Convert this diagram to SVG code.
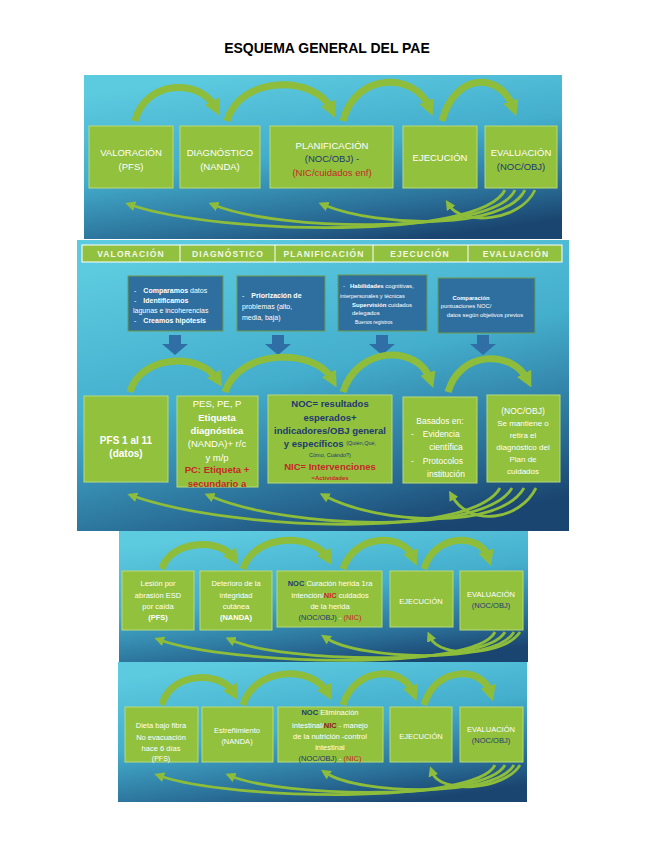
<svg xmlns="http://www.w3.org/2000/svg" width="655" height="848" viewBox="0 0 655 848">
<style>
.t{font-family:"Liberation Sans",Arial,sans-serif;text-anchor:middle;dominant-baseline:central;fill:#fff}
.s{text-anchor:start}
.b{font-weight:bold}
.blue{fill:#1f3a6e}
.red{fill:#c62828}
.dred{fill:#8b1a1a}
.gbox{fill:#92c13e;stroke:#b7d97a;stroke-width:1}
.bbox{fill:#2f6f9f;stroke:#6f9a4a;stroke-width:1}
.arc{fill:none;stroke:#8dbd3a;stroke-width:7;marker-end:url(#ah)}
.ret{fill:none;stroke:#8dbd3a;stroke-width:2.8;marker-end:url(#ahs)}
.down{fill:#2f6fa6}
.hdr{font-family:"Liberation Sans",Arial,sans-serif;font-weight:bold;font-size:8.5px;letter-spacing:1.1px;fill:#f3f8e6;text-anchor:middle;dominant-baseline:central}
</style>
<defs>
<linearGradient id="bg" x1="0.3" y1="0" x2="0.7" y2="1">
<stop offset="0" stop-color="#5ccadf"/>
<stop offset="0.45" stop-color="#44aecd"/>
<stop offset="0.8" stop-color="#2a6f98"/>
<stop offset="1" stop-color="#1a4570"/>
</linearGradient>
<marker id="ah" viewBox="0 0 10 10" refX="4" refY="5" markerWidth="16" markerHeight="16" markerUnits="userSpaceOnUse" orient="auto"><path d="M0,0 L10,5 L0,10 z" fill="#8dbd3a"/></marker>
<marker id="ahs" viewBox="0 0 10 10" refX="4" refY="5" markerWidth="10" markerHeight="10" markerUnits="userSpaceOnUse" orient="auto"><path d="M0,0 L10,5 L0,10 z" fill="#8dbd3a"/></marker>
<path id="dn" d="M-6,0 H6 V9 H13 L0,20 L-13,9 H-6 Z"/>
</defs>
<rect width="655" height="848" fill="#fff"/>
<text x="327" y="48" class="t b" style="fill:#000;font-size:14px">ESQUEMA GENERAL DEL PAE</text>

<g id="panels">
<rect x="84" y="75" width="478" height="164" fill="url(#bg)"/>
<rect x="77" y="240" width="492" height="291" fill="url(#bg)"/>
<rect x="119" y="531" width="409" height="131" fill="url(#bg)"/>
<rect x="118" y="662" width="409" height="140" fill="url(#bg)"/>
</g>

<!-- Panel 1 -->
<g id="p1-valoracion"><rect class="gbox" x="89" y="126" width="84" height="62"/>
<text class="t" x="131" y="152" font-size="9.5">VALORACIÓN</text><text class="t" x="131" y="166" font-size="9.5">(PFS)</text></g>
<g id="p1-diagnostico"><rect class="gbox" x="180" y="126" width="80" height="62"/>
<text class="t" x="220" y="152" font-size="9.5">DIAGNÓSTICO</text><text class="t" x="220" y="166" font-size="9.5">(NANDA)</text></g>
<g id="p1-planificacion"><rect class="gbox" x="270" y="126" width="123" height="62"/>
<text class="t" x="332" y="145" font-size="9.5">PLANIFICACIÓN</text><text class="t blue" x="332" y="158" font-size="9.5">(NOC/OBJ) -</text><text class="t red" x="332" y="172" font-size="9.5">(NIC/cuidados enf)</text></g>
<g id="p1-ejecucion"><rect class="gbox" x="403" y="126" width="74" height="62"/>
<text class="t" x="440" y="157" font-size="9.5">EJECUCIÓN</text></g>
<g id="p1-evaluacion"><rect class="gbox" x="485" y="126" width="72" height="62"/>
<text class="t" x="521" y="152" font-size="9.5">EVALUACIÓN</text><text class="t blue" x="521" y="166" font-size="9.5">(NOC/OBJ)</text></g>

<!-- Panel 2 header -->
<g id="p2-header">
<rect x="82" y="245" width="480" height="17" fill="#92c140" stroke="#fff" stroke-width="1"/>
<path d="M180 245V262M275 245V262M373 245V262M468 245V262" stroke="#fff" stroke-width="1"/>
<text class="hdr" x="131" y="254">VALORACIÓN</text>
<text class="hdr" x="228" y="254">DIAGNÓSTICO</text>
<text class="hdr" x="324" y="254">PLANIFICACIÓN</text>
<text class="hdr" x="420" y="254">EJECUCIÓN</text>
<text class="hdr" x="516" y="254">EVALUACIÓN</text>
</g>
<g id="p2-blue1"><rect class="bbox" x="128" y="276" width="95" height="55"/>
<text class="t s" x="134" y="290" font-size="7">-<tspan class="b" dx="7">Comparamos</tspan> datos</text>
<text class="t s" x="134" y="300" font-size="7">-<tspan class="b" dx="7">Identificamos</tspan></text>
<text class="t s" x="133" y="310" font-size="7">lagunas e incoherencias</text>
<text class="t s" x="134" y="320" font-size="7">-<tspan class="b" dx="7">Creamos hipótesis</tspan></text></g>
<g id="p2-blue2"><rect class="bbox" x="237" y="276" width="88" height="55"/>
<text class="t s" x="242" y="295" font-size="7">-<tspan class="b" dx="7">Priorización de</tspan></text>
<text class="t s" x="242" y="306" font-size="7">problemas (alto,</text>
<text class="t s" x="242" y="317" font-size="7">media, baja)</text></g>
<g id="p2-blue3"><rect class="bbox" x="338" y="275" width="89" height="56"/>
<text class="t s" x="343" y="286" font-size="6">-<tspan class="b" dx="5">Habilidades</tspan> cognitivas,</text>
<text class="t s" x="340" y="296" font-size="5.6">interpersonales y técnicas</text>
<text class="t s" x="352" y="305" font-size="6"><tspan class="b">Supervisión</tspan> cuidados</text>
<text class="t s" x="352" y="313" font-size="6">delegados</text>
<text class="t s" x="355" y="322" font-size="5">Buenos registros</text></g>
<g id="p2-blue4"><rect class="bbox" x="438" y="278" width="97" height="55"/>
<text class="t b" x="471" y="298" font-size="5.8">Comparación</text>
<text class="t" x="466" y="306" font-size="5.8">puntuaciones NOC/</text>
<text class="t" x="485" y="315" font-size="5.8">datos según objetivos previos</text></g>

<g id="p2-down-arrows">
<use href="#dn" class="down" x="175" y="335"/>
<use href="#dn" class="down" x="278" y="335"/>
<use href="#dn" class="down" x="382" y="335"/>
<use href="#dn" class="down" x="483" y="335"/>
</g>

<g id="p2-pfs"><rect class="gbox" x="84" y="396" width="84" height="86"/>
<text class="t b" x="126" y="440" font-size="10">PFS 1 al 11</text><text class="t b" x="126" y="453" font-size="10">(datos)</text></g>
<g id="p2-diag"><rect class="gbox" x="177" y="396" width="81" height="91"/>
<text class="t" x="217" y="403" font-size="9.5">PES, PE, P</text>
<text class="t b" x="217" y="417" font-size="9.5">Etiqueta</text>
<text class="t b" x="217" y="430" font-size="9.5">diagnóstica</text>
<text class="t" x="217" y="443" font-size="9.5">(NANDA)+ r/c</text>
<text class="t" x="217" y="457" font-size="9.5">y m/p</text>
<text class="t b red" x="217" y="469" font-size="9.5">PC: Etiqueta +</text>
<text class="t b red" x="217" y="483" font-size="9.5">secundario a</text></g>
<g id="p2-plan"><rect class="gbox" x="268" y="395" width="124" height="88"/>
<text class="t b blue" x="330" y="403" font-size="9.5">NOC= resultados</text>
<text class="t b blue" x="330" y="417" font-size="9.5">esperados+</text>
<text class="t b blue" x="330" y="430" font-size="9.5">indicadores/OBJ general</text>
<text class="t b blue" x="330" y="443" font-size="9.5">y específicos <tspan font-size="5.5" font-weight="normal">(Quién,Qué,</tspan></text>
<text class="t blue" x="330" y="455" font-size="5.5">Cómo, Cuándo?)</text>
<text class="t b red" x="330" y="466" font-size="9.5">NIC= Intervenciones</text>
<text class="t b red" x="330" y="478" font-size="6">=Actividades</text></g>
<g id="p2-ejec"><rect class="gbox" x="403" y="397" width="74" height="86"/>
<text class="t" x="440" y="421" font-size="8.5">Basados en:</text>
<text class="t s" x="411" y="434" font-size="8.5">-<tspan dx="9">Evidencia</tspan></text>
<text class="t" x="446" y="447" font-size="8.5">científica</text>
<text class="t s" x="411" y="461" font-size="8.5">-<tspan dx="9">Protocolos</tspan></text>
<text class="t" x="446" y="474" font-size="8.5">institución</text></g>
<g id="p2-eval"><rect class="gbox" x="487" y="395" width="73" height="87"/>
<text class="t" x="523" y="411" font-size="8.5">(NOC/OBJ)</text>
<text class="t" x="523" y="423" font-size="8">Se mantiene o</text>
<text class="t" x="523" y="435" font-size="8">retira el</text>
<text class="t" x="523" y="447" font-size="8">diagnóstico del</text>
<text class="t" x="523" y="459" font-size="8">Plan de</text>
<text class="t" x="523" y="471" font-size="8">cuidados</text></g>

<!-- Panel 3 -->
<g id="p3-pfs"><rect class="gbox" x="122" y="571" width="72" height="59"/>
<text class="t" x="158" y="583" font-size="7.5">Lesión por</text>
<text class="t" x="158" y="595" font-size="7.5">abrasión ESD</text>
<text class="t" x="158" y="606" font-size="7.5">por caída</text>
<text class="t b" x="158" y="617" font-size="7.5">(PFS)</text></g>
<g id="p3-nanda"><rect class="gbox" x="200" y="571" width="72" height="59"/>
<text class="t" x="236" y="583" font-size="7.5">Deterioro de la</text>
<text class="t" x="236" y="595" font-size="7.5">integridad</text>
<text class="t" x="236" y="606" font-size="7.5">cutánea</text>
<text class="t b" x="236" y="617" font-size="7.5">(NANDA)</text></g>
<g id="p3-plan"><rect class="gbox" x="277" y="571" width="105" height="56"/>
<text class="t" x="330" y="583" font-size="7.5"><tspan class="b blue">NOC</tspan> Curación herida 1ra</text>
<text class="t" x="330" y="595" font-size="7.5">Intención/<tspan class="b red">NIC</tspan> cuidados</text>
<text class="t" x="330" y="606" font-size="7.5">de la herida</text>
<text class="t" x="330" y="617" font-size="7.5"><tspan class="blue">(NOC/OBJ)</tspan> - <tspan class="red">(NIC)</tspan></text></g>
<g id="p3-ejec"><rect class="gbox" x="390" y="571" width="63" height="56"/>
<text class="t" x="421" y="601" font-size="7.5">EJECUCIÓN</text></g>
<g id="p3-eval"><rect class="gbox" x="460" y="571" width="63" height="59"/>
<text class="t" x="491" y="594" font-size="7.5">EVALUACIÓN</text>
<text class="t blue" x="491" y="605" font-size="7.5">(NOC/OBJ)</text></g>

<!-- Panel 4 -->
<g id="p4-pfs"><rect class="gbox" x="125" y="707" width="73" height="55"/>
<text class="t" x="161" y="725" font-size="7.5">Dieta bajo fibra</text>
<text class="t" x="161" y="737" font-size="7.5">No evacuación</text>
<text class="t" x="161" y="748" font-size="7.5">hace 6 días</text>
<text class="t" x="161" y="758" font-size="7">(PFS)</text></g>
<g id="p4-nanda"><rect class="gbox" x="202" y="707" width="71" height="55"/>
<text class="t" x="237" y="730" font-size="7.5">Estreñimiento</text>
<text class="t" x="237" y="741" font-size="7.5">(NANDA)</text></g>
<g id="p4-plan"><rect class="gbox" x="278" y="707" width="105" height="55"/>
<text class="t" x="330" y="712" font-size="7.5"><tspan class="b blue">NOC</tspan> Eliminación</text>
<text class="t" x="330" y="725" font-size="7.5">intestinal/<tspan class="b dred">NIC</tspan> - manejo</text>
<text class="t" x="330" y="736" font-size="7.5">de la nutrición -control</text>
<text class="t" x="330" y="747" font-size="7.5">intestinal</text>
<text class="t" x="330" y="758" font-size="7.5"><tspan class="blue">(NOC/OBJ)</tspan> - <tspan class="red">(NIC)</tspan></text></g>
<g id="p4-ejec"><rect class="gbox" x="390" y="707" width="62" height="55"/>
<text class="t" x="421" y="736" font-size="7.5">EJECUCIÓN</text></g>
<g id="p4-eval"><rect class="gbox" x="460" y="707" width="63" height="55"/>
<text class="t" x="491" y="729" font-size="7.5">EVALUACIÓN</text>
<text class="t blue" x="491" y="740" font-size="7.5">(NOC/OBJ)</text></g>

<g id="connectors">
<!-- panel 1 -->
<path class="arc" d="M135 121 C145 80,200 78,215 107"/>
<path class="arc" d="M227 121 C240 75,315 75,331 109"/>
<path class="arc" d="M343 121 C355 72,415 72,429 107"/>
<path class="arc" d="M442 121 C455 72,500 72,513 107"/>
<path class="ret" d="M505 190 C480 240,220 235,131 205"/>
<path class="ret" d="M515 190 C495 235,280 232,214 205"/>
<path class="ret" d="M525 190 C505 230,380 228,324 205"/>
<path class="ret" d="M535 190 C520 222,462 226,449 205"/>
<!-- panel 2 -->
<path class="arc" d="M130 392 C140 355,200 352,217 379"/>
<path class="arc" d="M225 392 C240 348,315 348,332 379"/>
<path class="arc" d="M343 392 C358 345,418 345,430 379"/>
<path class="arc" d="M448 392 C460 350,512 350,527 379"/>
<path class="ret" d="M500 488 C470 540,230 530,133 496"/>
<path class="ret" d="M512 488 C485 535,290 530,210 496"/>
<path class="ret" d="M524 488 C500 530,380 525,325 496"/>
<path class="ret" d="M536 488 C520 520,470 528,452 496"/>
<!-- panel 3 -->
<path class="arc" d="M162 569 C170 540,220 538,233 557"/>
<path class="arc" d="M243 569 C255 533,312 533,327 557"/>
<path class="arc" d="M343 569 C355 533,403 533,413 557"/>
<path class="arc" d="M424 569 C435 533,480 533,488 557"/>
<path class="ret" d="M495 632 C475 672,230 665,160 640"/>
<path class="ret" d="M505 632 C485 668,280 662,231 640"/>
<path class="ret" d="M514 632 C495 665,360 660,326 638"/>
<path class="ret" d="M520 632 C505 655,440 660,430 637"/>
<!-- panel 4 -->
<path class="arc" d="M162 705 C170 672,220 670,233 692"/>
<path class="arc" d="M243 705 C255 666,312 666,327 692"/>
<path class="arc" d="M343 705 C355 666,403 666,413 692"/>
<path class="arc" d="M424 705 C435 666,482 666,490 692"/>
<path class="ret" d="M495 765 C475 805,230 800,160 776"/>
<path class="ret" d="M505 765 C485 802,280 797,231 776"/>
<path class="ret" d="M514 765 C495 798,360 795,326 773"/>
<path class="ret" d="M520 765 C505 790,440 795,432 772"/>
</g>
</svg>
